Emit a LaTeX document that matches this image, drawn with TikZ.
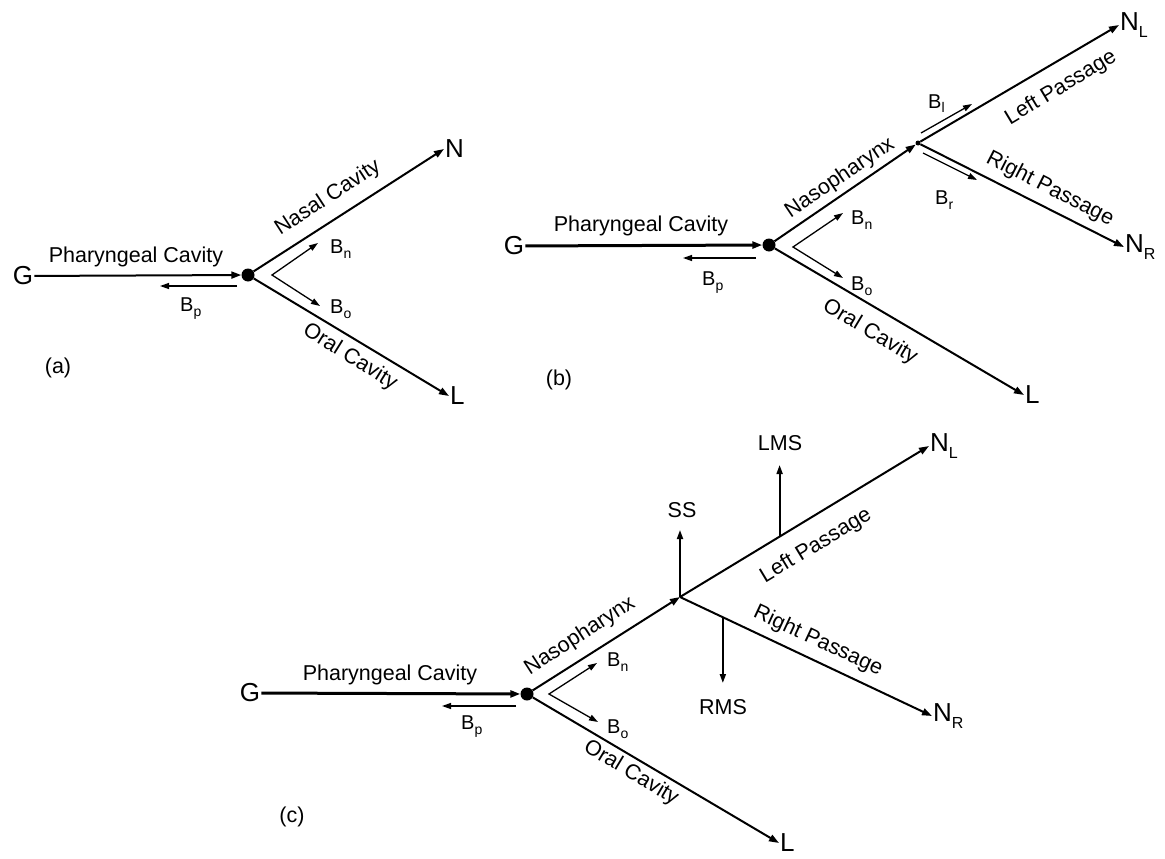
\documentclass[tikz,border=0pt]{standalone}
\usepackage{fontspec}
\setmainfont{Liberation Sans}
\usetikzlibrary{arrows.meta,calc}
\newcommand{\lowsub}[1]{\raisebox{-5pt}{\fontsize{14}{14}\selectfont #1}}
\newcommand{\bigsub}[1]{\raisebox{-7pt}{\fontsize{16}{16}\selectfont #1}}
\begin{document}
\begin{tikzpicture}[x=1pt,y=-1pt,
  lbl/.style={font=\fontsize{21.5}{25}\selectfont, inner sep=1pt},
  big/.style={font=\fontsize{26}{30}\selectfont, inner sep=1pt},
  blbl/.style={font=\fontsize{20}{23}\selectfont, inner sep=0pt, anchor=base west},
  dotn/.style={circle, fill=black, minimum size=13pt, inner sep=0pt},
  jn/.style={circle, fill=black, minimum size=5pt, inner sep=0pt},
  main/.style={line width=2pt, -{Triangle[length=10pt,width=7pt]}},
  thickmain/.style={line width=3pt, -{Triangle[length=10pt,width=7pt]}},
  barrow/.style={line width=1.3pt, -{Triangle[length=9pt,width=6pt]}},
  dbarrow/.style={line width=1.3pt, {Triangle[length=9pt,width=6pt]}-{Triangle[length=9pt,width=6pt]}},
  vout/.style={line width=1.8pt, -{Triangle[length=9pt,width=6pt]}},
]
\useasboundingbox (0,0) rectangle (1165,859);

% ---------------- panel (a)
\node[big] (Ga) at (23,276) {G};
\node[dotn] (Da) at (248,275) {};
\node[big,anchor=west] (Na) at (444,149) {N};
\node[big,anchor=west] (La) at (449,396) {L};
\draw[main] (Ga) -- (Da);
\draw[main] (Da) -- (Na.west);
\draw[main] (Da) -- (La.west);
\node[lbl] (pca) at (136,257) {Pharyngeal Cavity};
\node[lbl,rotate=33] (nca) at (328,198) {Nasal Cavity};
\node[lbl,rotate=-32] (oca) at (350,357) {Oral Cavity};
\coordinate (bpa1) at (237,286);
\coordinate (bpa2) at (160,286);
\draw[barrow] (bpa1) -- (bpa2);
\node[blbl] (Bpa) at (180,311) {B\lowsub{p}};
\coordinate (va) at (272,275);
\coordinate (vna) at (318,243);
\coordinate (voa) at (320,306);
\draw[dbarrow] (vna) -- (va) -- (voa);
\node[blbl] (Bna) at (330,253) {B\lowsub{n}};
\node[blbl] (Boa) at (330,313) {B\lowsub{o}};
\node[lbl] (tla) at (58,368) {(a)};

% ---------------- panel (b)
\node[big] (Gb) at (514,246) {G};
\node[dotn] (Db) at (769,245) {};
\node[jn] (Jb) at (918,143) {};
\node[big,anchor=west] (NLb) at (1119,25) {N\bigsub{L}};
\node[big,anchor=west] (NRb) at (1124,247) {N\bigsub{R}};
\node[big,anchor=west] (Lb) at (1024,395) {L};
\draw[thickmain] (Gb) -- (Db);
\draw[main] (Db) -- (Jb);
\draw[main] (Jb) -- (NLb.west);
\draw[main] (Jb) -- (NRb.west);
\draw[main] (Db) -- (Lb.west);
\node[lbl] (pcb) at (641,226) {Pharyngeal Cavity};
\node[lbl,rotate=34] (npb) at (840,178) {Nasopharynx};
\node[lbl,rotate=31] (lpb) at (1061,88) {Left Passage};
\node[lbl,rotate=-27] (rpb) at (1050,189) {Right Passage};
\node[lbl,rotate=-31] (ocb) at (870,332) {Oral Cavity};
\coordinate (bpb1) at (756,258);
\coordinate (bpb2) at (683,258);
\draw[barrow] (bpb1) -- (bpb2);
\node[blbl] (Bpb) at (702,285) {B\lowsub{p}};
\coordinate (vb) at (793,247);
\coordinate (vnb) at (843,213);
\coordinate (vob) at (843,278);
\draw[dbarrow] (vnb) -- (vb) -- (vob);
\node[blbl] (Bnb) at (851,224) {B\lowsub{n}};
\node[blbl] (Bob) at (851,290) {B\lowsub{o}};
\coordinate (blb1) at (921,133);
\coordinate (blb2) at (972,104);
\draw[barrow] (blb1) -- (blb2);
\node[blbl] (Blb) at (928,108) {B\lowsub{l}};
\coordinate (brb1) at (923,153);
\coordinate (brb2) at (977,180);
\draw[barrow] (brb1) -- (brb2);
\node[blbl] (Brb) at (935,204) {B\lowsub{r}};
\node[lbl] (tlb) at (559,380) {(b)};

% ---------------- panel (c)
\node[big] (Gc) at (250,693) {G};
\node[dotn] (Dc) at (527,694) {};
\coordinate (Jc) at (680,597);
\node[big,anchor=west] (NLc) at (929,446) {N\bigsub{L}};
\node[big,anchor=west] (NRc) at (932,716) {N\bigsub{R}};
\node[big,anchor=west] (Lc) at (779,843) {L};
\draw[thickmain] (Gc) -- (Dc);
\draw[main] (Dc) -- (Jc);
\draw[main] (Jc) -- (NLc.west);
\draw[main] (Jc) -- (NRc.west);
\draw[main] (Dc) -- (Lc.west);
\node[lbl] (pcc) at (390,675) {Pharyngeal Cavity};
\node[lbl,rotate=33] (npc) at (580,636) {Nasopharynx};
\node[lbl,rotate=31] (lpc) at (816,546) {Left Passage};
\node[lbl,rotate=-25] (rpc) at (818,641) {Right Passage};
\node[lbl,rotate=-31] (occ) at (631,773) {Oral Cavity};
\coordinate (bpc1) at (516,706);
\coordinate (bpc2) at (442,706);
\draw[barrow] (bpc1) -- (bpc2);
\node[blbl] (Bpc) at (461,729) {B\lowsub{p}};
\coordinate (vc) at (549,694);
\coordinate (vnc) at (597,663);
\coordinate (voc) at (598,722);
\draw[dbarrow] (vnc) -- (vc) -- (voc);
\node[blbl] (Bnc) at (607,666) {B\lowsub{n}};
\node[blbl] (Boc) at (607,733) {B\lowsub{o}};
% side branches
\node[lbl] (SS) at (682,510) {SS};
\node[lbl] (LMS) at (780,443) {LMS};
\node[lbl] (RMS) at (723,707) {RMS};
\coordinate (sst) at (680,530);
\draw[vout] (Jc) -- (sst);
\coordinate (lmsb) at ($(Jc)!0.4!(NLc.west)$);
\coordinate (lmst) at (lmsb |- 0,465);
\draw[vout] (lmsb) -- (lmst);
\coordinate (rmsb) at ($(Jc)!0.17!(NRc.west)$);
\coordinate (rmst) at (rmsb |- 0,683);
\draw[vout] (rmsb) -- (rmst);
\node[lbl] (tlc) at (292,817) {(c)};
\end{tikzpicture}
\end{document}
